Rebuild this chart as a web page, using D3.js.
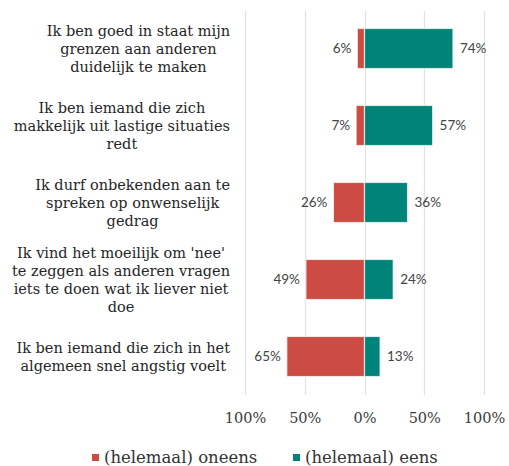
<!DOCTYPE html>
<html>
<head>
<meta charset="utf-8">
<script src="https://cdn.jsdelivr.net/npm/d3@7"></script>
<style>
	body { margin: 0; background: #fff; }
	svg text { fill: #333; }
	.cat { font-family: "DejaVu Serif", serif; font-size: 14.5px; fill: #262626; }
	.val { font-family: Lato, "Open Sans", sans-serif; font-size: 13.5px; fill: #444; }
	.tick-lbl { font-family: "DejaVu Serif", serif; font-size: 14.5px; fill: #3a3a3a; }
	.legend { font-family: "DejaVu Serif", serif; font-size: 16.5px; fill: #333; }
</style>
</head>
<body>
<svg id="chart" width="509" height="466"></svg>
<script>
// statements, one line break per "\n"
var categories = [
	"Ik ben goed in staat mijn\ngrenzen aan anderen\nduidelijk te maken",
	"Ik ben iemand die zich\nmakkelijk uit lastige situaties\nredt",
	"Ik durf onbekenden aan te\nspreken op onwenselijk\ngedrag",
	"Ik vind het moeilijk om 'nee'\nte zeggen als anderen vragen\niets te doen wat ik liever niet\ndoe",
	"Ik ben iemand die zich in het\nalgemeen snel angstig voelt"
];
var oneens = [6, 7, 26, 49, 65];
var eens = [74, 57, 36, 24, 13];
var seriesNames = ["(helemaal) oneens", "(helemaal) eens"];
var seriesColors = ["#cc4c43", "#00847a"];
var tickValues = [-100, -50, 0, 50, 100];

var svg = d3.select("#chart");

var x = d3.scaleLinear().domain([-100, 100]).range([245, 484]);
var y = d3.scaleBand().domain(d3.range(categories.length)).range([10, 395]).paddingInner(0.48).paddingOuter(0.24);

// gridlines
svg.append("g").selectAll("line")
	.data(tickValues)
	.enter().append("line")
	.attr("x1", function (d) { return Math.round(x(d)) + 0.5; })
	.attr("x2", function (d) { return Math.round(x(d)) + 0.5; })
	.attr("y1", 11)
	.attr("y2", 395)
	.attr("stroke", "#e2e2e2")
	.attr("stroke-width", 1.2);

// axis labels
var axis = d3.axisBottom(x)
	.tickValues(tickValues)
	.tickSize(0)
	.tickPadding(0)
	.tickFormat(function (d) { return Math.abs(d) + "%"; });

var axisG = svg.append("g")
	.attr("transform", "translate(0,413)")
	.call(axis);
axisG.select(".domain").remove();
axisG.selectAll("text")
	.attr("class", "tick-lbl")
	.attr("font-family", null)
	.attr("font-size", null);

var rows = svg.append("g").selectAll("g.row")
	.data(categories)
	.enter().append("g")
	.attr("class", "row");

// negative side
rows.append("rect")
	.attr("x", function (d, i) { return x(-oneens[i]); })
	.attr("y", function (d, i) { return y(i); })
	.attr("width", function (d, i) { return x(0) - x(-oneens[i]); })
	.attr("height", y.bandwidth())
	.attr("fill", seriesColors[0])
	.attr("stroke", "#fff")
	.attr("stroke-opacity", 0.7)
	.attr("stroke-width", 1.2);

rows.append("rect")
	.attr("x", function (d, i) { return x(0); })
	.attr("y", function (d, i) { return y(i); })
	.attr("width", function (d, i) { return x(eens[i]) - x(0); })
	.attr("height", y.bandwidth())
	.attr("fill", seriesColors[1])
	.attr("stroke", "#fff")
	.attr("stroke-opacity", 0.7)
	.attr("stroke-width", 1.2);

// value labels
rows.append("text")
	.attr("class", "val")
	.attr("x", function (d, i) { return x(-oneens[i]) - 6; })
	.attr("y", function (d, i) { return y(i) + y.bandwidth() / 2; })
	.attr("dy", "0.36em")
	.attr("text-anchor", "end")
	.text(function (d, i) { return oneens[i] + "%"; });

rows.append("text")
	.attr("class", "val")
	.attr("x", function (d, i) { return x(eens[i]) + 7; })
	.attr("y", function (d, i) { return y(i) + y.bandwidth() / 2; })
	.attr("dy", "0.36em")
	.attr("text-anchor", "start")
	.text(function (d, i) { return eens[i] + "%"; });

// category labels: block right-aligned at labelRight, lines centred inside it
var lineH = 18;
var labelRight = 230;
rows.append("text")
	.attr("class", "cat")
	.attr("text-anchor", "middle")
	.each(function (d, i) {
		var lines = d.split("\n");
		var cy = y(i) + y.bandwidth() / 2;
		var t = d3.select(this);
		var spans = lines.map(function (ln, k) {
			return t.append("tspan")
				.attr("y", cy + (k - (lines.length - 1) / 2) * lineH)
				.attr("dy", "0.35em")
				.text(ln);
		});
		var maxW = d3.max(spans, function (s) { return s.node().getComputedTextLength(); });
		spans.forEach(function (s) { s.attr("x", labelRight - maxW / 2); });
	});

// legend
var legend = svg.append("g").attr("class", "legendG");
var legendX = [92, 293];
seriesNames.forEach(function (name, i) {
	var g = legend.append("g").attr("transform", "translate(" + legendX[i] + ",457)");
	g.append("rect")
		.attr("x", 0)
		.attr("y", -3)
		.attr("width", 7)
		.attr("height", 7)
		.attr("fill", seriesColors[i]);
	g.append("text")
		.attr("class", "legend")
		.attr("x", 12)
		.attr("dy", "0.35em")
		.text(name);
});
</script>
</body>
</html>
